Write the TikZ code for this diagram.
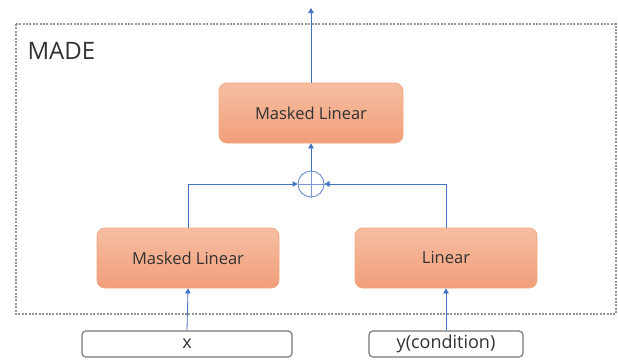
\documentclass[tikz,border=0pt]{standalone}
\usepackage{fontspec}
\setmainfont{Open Sans}
\usetikzlibrary{arrows.meta,shapes.geometric}
\definecolor{lnblue}{RGB}{68,114,196}
\definecolor{lnlight}{RGB}{120,150,210}
\definecolor{boxtop}{RGB}{246,190,162}
\definecolor{boxbot}{RGB}{241,158,122}
\definecolor{boxedge}{RGB}{243,168,128}
\definecolor{txt}{RGB}{50,50,50}
\definecolor{frame}{RGB}{150,150,150}
\definecolor{inedge}{RGB}{120,120,120}
\tikzset{
  layerbox/.style={rounded corners=8pt, draw=boxedge, line width=0.8pt,
    top color=boxtop, bottom color=boxbot, text=txt,
    font=\fontsize{16.5}{20}\selectfont, inner sep=0pt},
  inbox/.style={rounded corners=4pt, draw=inedge, line width=1.2pt, fill=white,
    text=txt, font=\fontsize{18}{20}\selectfont, inner sep=0pt,
    minimum height=26pt},
  arr/.style={draw=lnblue, line width=0.8pt, -{Triangle[width=5.5pt,length=5pt]}},
  madeframe/.style={draw=frame, line width=1.3pt, dash pattern=on 2pt off 1.4pt},
}
\begin{document}
\begin{tikzpicture}[x=1pt,y=-1pt]
\useasboundingbox (0,0) rectangle (618,362);
\draw[madeframe] (16,24) rectangle (616,314);
\node[anchor=west, text=txt, font=\fontsize{24}{28}\selectfont] (made) at (24,51) {MADE};

\node[layerbox, minimum width=184pt, minimum height=60pt] (top) at (311,113) {Masked Linear};
\node[layerbox, minimum width=182pt, minimum height=60pt] (ml) at (188,258) {Masked Linear};
\node[layerbox, minimum width=182pt, minimum height=60pt] (lin) at (446,258) {Linear};
\node[inbox, minimum width=210pt] (x) at (187,344) {x};
\node[inbox, minimum width=154pt] (y) at (446,344) {y(condition)};

\node[circle, draw=lnlight, line width=1pt, minimum size=26pt, inner sep=0pt] (sum) at (311,184) {};
\draw[lnlight, line width=0.8pt] (sum.north) -- (sum.south) (sum.west) -- (sum.east);

\coordinate (out) at (311,8);
\draw[arr] (x.north) -- (ml.south);
\draw[arr] (y.north) -- (lin.south);
\draw[arr] (ml.north) |- (sum.west);
\draw[arr] (lin.north) |- (sum.east);
\draw[arr] (sum.north) -- (top.south);
\draw[arr] (top.north) -- (out);
\end{tikzpicture}
\end{document}
